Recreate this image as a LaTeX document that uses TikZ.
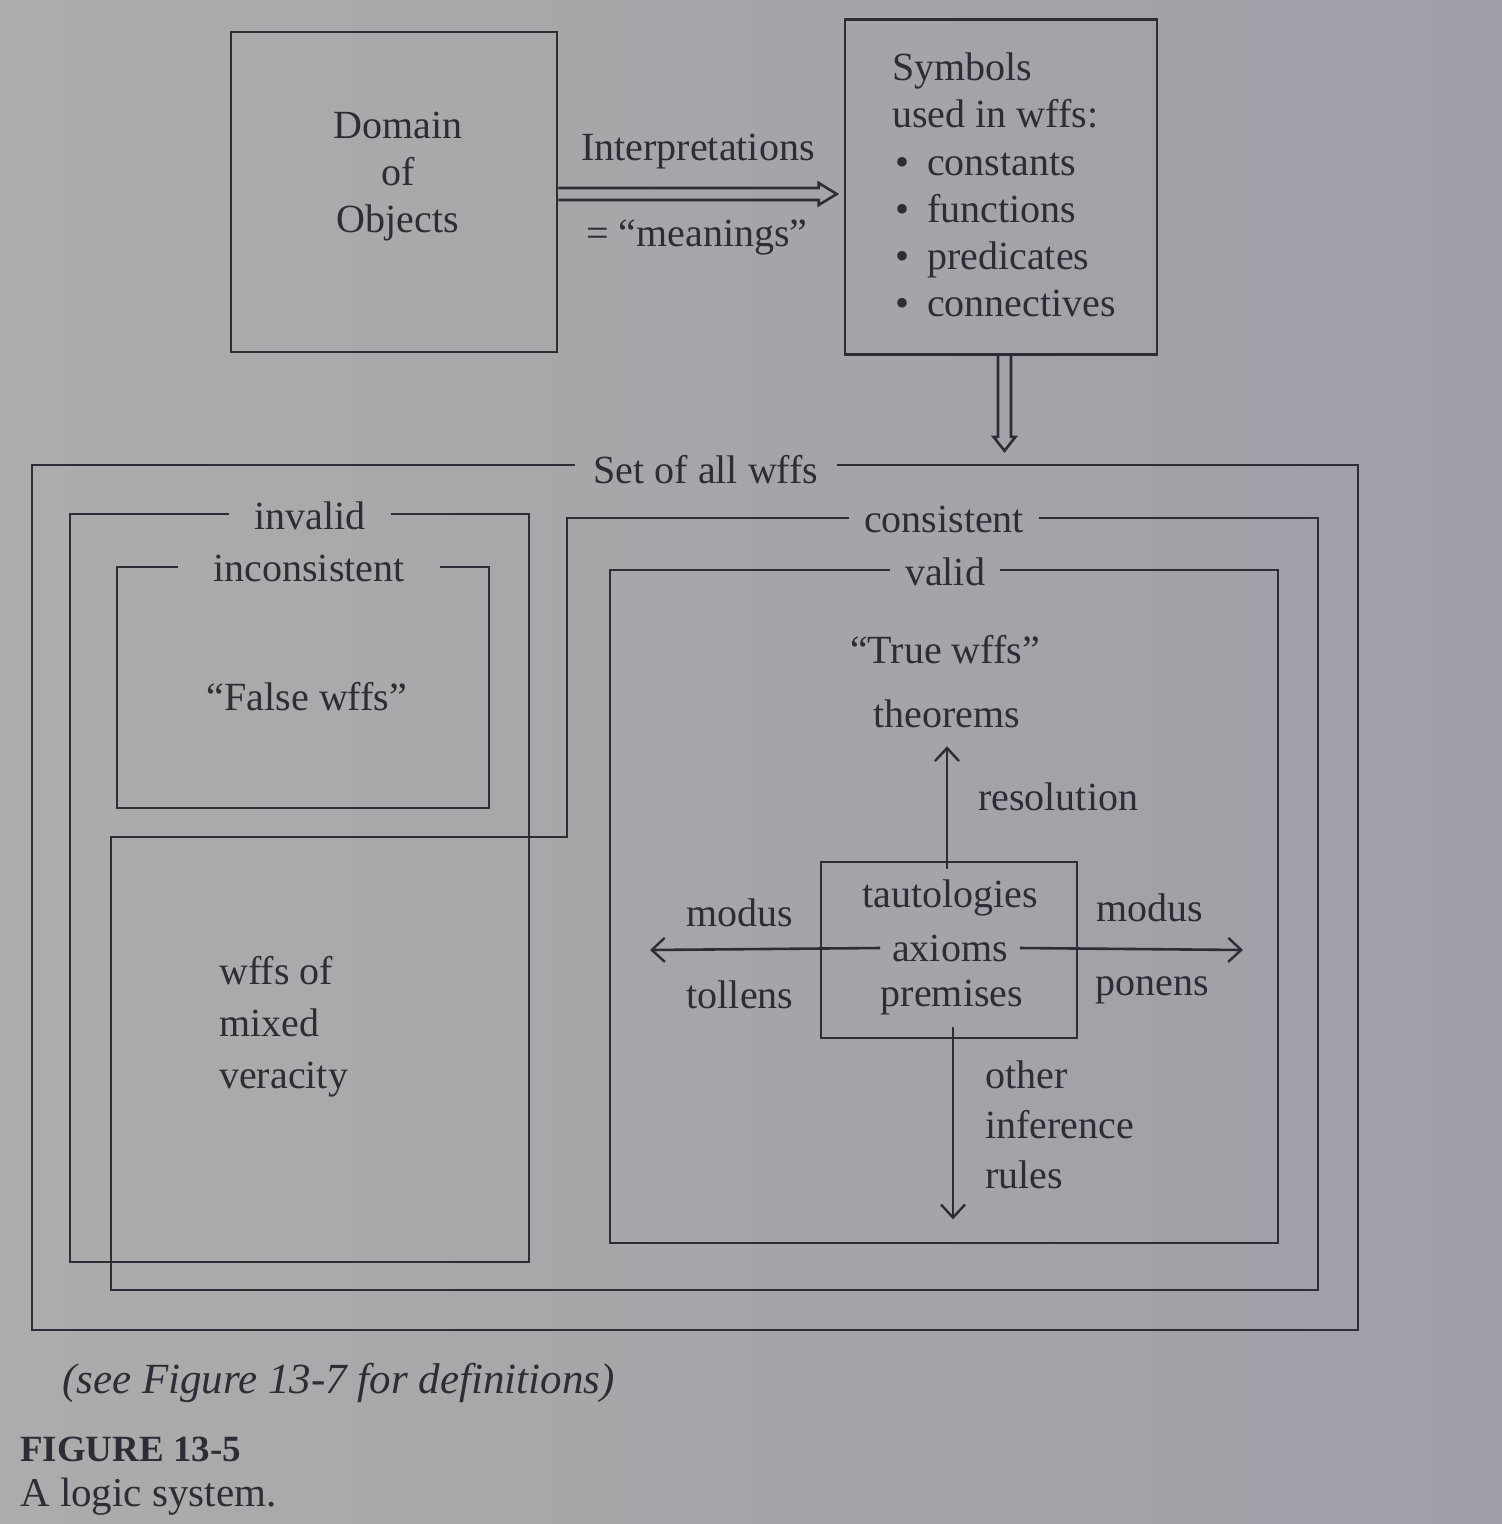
\documentclass[tikz,border=0pt]{standalone}
\usepackage{fontspec}
\setmainfont{Liberation Serif}
\usetikzlibrary{calc,arrows.meta}
\definecolor{paperL}{RGB}{171,173,172}
\definecolor{paperR}{RGB}{160,158,167}
\definecolor{ink}{RGB}{46,44,52}

\begin{document}
\begin{tikzpicture}[x=1pt,y=-1pt,
  every node/.style={text=ink, inner sep=0pt, font=\fontsize{40}{48}\selectfont},
  ln/.style={draw=ink, line width=2.6pt, line join=miter},
  lbl/.style={inner xsep=#1, inner ysep=0pt},
  flow/.style={ln, -{Straight Barb[length=13pt,width=24pt,line width=2.4pt]}},
]
% paper
\shade[left color=paperL, right color=paperR] (0,0) rectangle (1502,1524);

% ---------- top: domain, symbols, interpretations ----------
\node[ln, minimum width=326pt, minimum height=320pt] (dom) at (394,192) {};
\node[align=center, font=\fontsize{40}{47}\selectfont] (domtxt) at (398,177) {Domain\\of\\Objects};

\node[ln, minimum width=312pt, minimum height=335pt] (sym) at (1001,187) {};
\node[align=left, anchor=west, font=\fontsize{40}{47.2}\selectfont] (symtxt) at (892,185)
  {Symbols\\used in wffs:\\
   \hspace*{3pt}\textbullet\hspace{0.45em}constants\\
   \hspace*{3pt}\textbullet\hspace{0.45em}functions\\
   \hspace*{3pt}\textbullet\hspace{0.45em}predicates\\
   \hspace*{3pt}\textbullet\hspace{0.45em}connectives};

\node (interp) at (698,152) {Interpretations};
\node (mean) at (697,237) {= “meanings”};

% hollow arrow: domain -> symbols
\draw[ln] ($(dom.east)+(0,-4)$) -- ($(sym.west)+(-25,1)$) -- ($(sym.west)+(-25,-4)$)
  -- ($(sym.west)+(-7,7)$) -- ($(sym.west)+(-25,18)$) -- ($(sym.west)+(-25,13)$)
  -- ($(dom.east)+(0,8)$);

% hollow arrow: symbols -> set of all wffs
\draw[ln] ($(sym.south)+(-3,0)$) -- ($(sym.south)+(-3,81)$) -- ($(sym.south)+(-7.5,81)$)
  -- ($(sym.south)+(3.5,95)$) -- ($(sym.south)+(14.5,81)$) -- ($(sym.south)+(10,81)$)
  -- ($(sym.south)+(10,0)$);

% ---------- set of all wffs ----------
\coordinate (allNW) at (32,465);
\coordinate (allSE) at (1358,1330);
\node[lbl=18pt] (tAll) at (706,470) {Set of all wffs};
\draw[ln] (tAll.west |- allNW) -- (allNW) |- (allSE) |- (tAll.east |- allNW);

% invalid
\coordinate (invNW) at (70,514);
\coordinate (invSE) at (529,1262);
\node[lbl=25pt] (tInv) at (310,516) {invalid};
\draw[ln] (tInv.west |- invNW) -- (invNW) |- (invSE) |- (tInv.east |- invNW);

% inconsistent
\coordinate (incNW) at (117,567);
\coordinate (incSE) at (489,808);
\node[lbl=35pt] (tInc) at (309,568) {inconsistent};
\draw[ln] (tInc.west |- incNW) -- (incNW) |- (incSE) |- (tInc.east |- incNW);

% consistent (L-shaped region)
\coordinate (conN) at (567,518);
\coordinate (conNotch) at (567,837);
\coordinate (conSW) at (111,1290);
\coordinate (conSE) at (1318,1290);
\node[lbl=15pt] (tCon) at (944,519) {consistent};
\draw[ln] (tCon.west |- conN) -- (conN) -- (conNotch) -| (conSW) -- (conSE) |- (tCon.east |- conN);

% valid
\coordinate (valNW) at (610,570);
\coordinate (valSE) at (1278,1243);
\node[lbl=15pt] (tVal) at (945,572) {valid};
\draw[ln] (tVal.west |- valNW) -- (valNW) |- (valSE) |- (tVal.east |- valNW);

% region contents
\node (falsew) at (307,697) {“False wffs”};
\node[align=left, anchor=west, font=\fontsize{40}{52}\selectfont] (mixed) at (219,1027) {wffs of\\mixed\\veracity};

\node (truew) at (945,650) {“True wffs”};
\node (thm) at (947,714) {theorems};

\node[ln, minimum width=256pt, minimum height=176pt] (cbox) at (949,950) {};
\node (taut) at (950,898) {tautologies};
\node[lbl=12pt] (ax) at (950,948) {axioms};
\node (prem) at (952,998) {premises};

\coordinate (mtEnd) at (650,950);
\coordinate (mpEnd) at (1243,950);
\draw[flow] (ax.west) -- (mtEnd);
\draw[flow] (ax.east) -- (mpEnd);
\draw[flow] ($(cbox.north)+(-2,8)$) -- ($(cbox.north |- thm.south)+(-2,18)$);
\draw[flow] ($(cbox.south)+(4,-12)$) -- ($(cbox.south)+(4,180)$);

\node (mt1) at (740,913) {modus};
\node (mt2) at (740,995) {tollens};
\node (mp1) at (1150,908) {modus};
\node (mp2) at (1152,990) {ponens};
\node[anchor=west] (res) at (978,797) {resolution};
\node[align=left, anchor=west, font=\fontsize{40}{50}\selectfont] (oir) at (985,1125) {other\\inference\\rules};

% ---------- caption ----------
\node[anchor=west, font=\fontsize{43}{50}\selectfont\itshape] (note) at (62,1383) {(see Figure 13-7 for definitions)};
\node[anchor=west, font=\fontsize{37}{44}\selectfont\bfseries] (fig) at (20,1449) {FIGURE 13-5};
\node[anchor=west, font=\fontsize{41}{48}\selectfont] (cap) at (20,1497) {A logic system.};
\end{tikzpicture}
\end{document}
